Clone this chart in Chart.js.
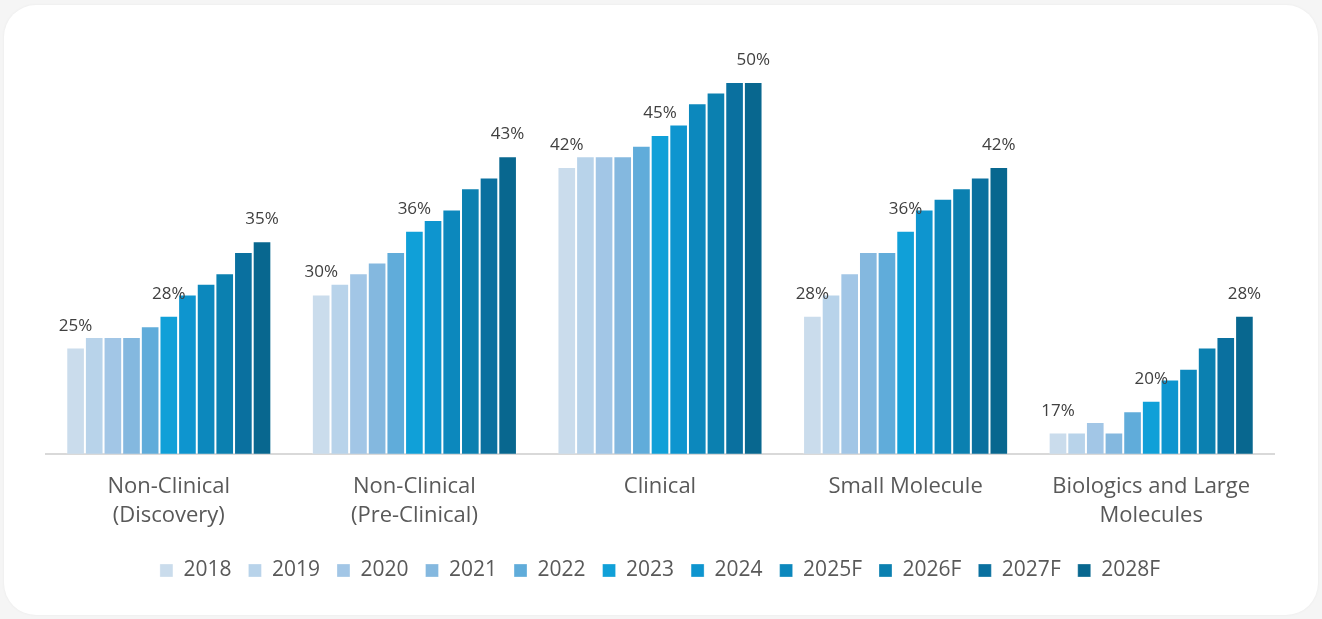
<!DOCTYPE html>
<html>
<head>
<meta charset="utf-8">
<title>Outsourcing penetration by segment</title>
<script src="https://cdn.jsdelivr.net/npm/chart.js@4.4.1/dist/chart.umd.min.js"></script>
<style>
  html, body { margin: 0; padding: 0; background: #f5f5f5; }
  body { width: 1322px; height: 619px; position: relative; overflow: hidden; }
  .card {
    position: absolute; left: 4px; top: 5px; width: 1314px; height: 610px;
    background: #ffffff; border-radius: 32px;
    box-shadow: 0 0 3px rgba(0, 0, 0, 0.05);
  }
  #penetrationChart { position: absolute; left: 0; top: 0; }
</style>
</head>
<body>
<div class="card"></div>
<canvas id="penetrationChart" width="1322" height="619"></canvas>
<script>
const segments = [
    ['Non-Clinical', '(Discovery)'],
    ['Non-Clinical', '(Pre-Clinical)'],
    'Clinical',
    'Small Molecule',
    ['Biologics and Large', 'Molecules']
];

const years = ['2018', '2019', '2020', '2021', '2022', '2023', '2024', '2025F', '2026F', '2027F', '2028F'];

// penetration (%) per year, one value per segment
const y2018  = [25, 30, 42, 28, 17];
const y2019  = [26, 31, 43, 30, 17];
const y2020  = [26, 32, 43, 32, 18];
const y2021  = [26, 33, 43, 34, 17];
const y2022  = [27, 34, 44, 34, 19];
const y2023  = [28, 36, 45, 36, 20];
const y2024  = [30, 37, 46, 38, 22];
const y2025F = [31, 38, 48, 39, 23];
const y2026F = [32, 40, 49, 40, 25];
const y2027F = [34, 41, 50, 41, 26];
const y2028F = [35, 43, 50, 42, 28];

const yearValues = [y2018, y2019, y2020, y2021, y2022, y2023, y2024, y2025F, y2026F, y2027F, y2028F];

const palette = ['#cadcec', '#b8d3ea', '#a2c6e6', '#84b8df', '#60acda', '#10a0d8', '#0e95cf', '#0c88bd', '#0b80b0', '#0a709f', '#08678f'];

// only these years get a value label
const labelledYears = ['2018', '2023', '2028F'];

const barLabels = {
    id: 'barLabels',
    afterDatasetsDraw(chart) {
        const ctx = chart.ctx;
        ctx.save();
        ctx.font = '17px "Open Sans"';
        ctx.fillStyle = '#404040';
        ctx.textAlign = 'center';
        ctx.textBaseline = 'alphabetic';
        chart.data.datasets.forEach((ds, i) => {
            if (!labelledYears.includes(ds.label)) return;
            chart.getDatasetMeta(i).data.forEach((bar, j) => {
                ctx.fillText(ds.data[j] + '%', bar.x, bar.y - 17);
            });
        });
        ctx.restore();
    }
};

const ctx = document.getElementById('penetrationChart').getContext('2d');
new Chart(ctx, {
    type: 'bar',
    data: {
        labels: segments,
        datasets: years.map((yr, i) => ({
            label: yr,
            data: yearValues[i],
            backgroundColor: palette[i],
            borderColor: 'rgba(255,255,255,0.3)',
            borderWidth: 1,
            barPercentage: 1,
            categoryPercentage: 0.835
        }))
    },
    options: {
        responsive: false,
        animation: false,
        layout: { padding: { left: 46, right: 48, top: 82, bottom: 28 } },
        scales: {
            x: {
                grid: { display: false },
                border: { display: true, color: '#d9d9d9', width: 2 },
                ticks: {
                    color: '#595959',
                    font: { family: 'Open Sans', size: 22, lineHeight: 1.3 },
                    padding: 11,
                    maxRotation: 0,
                    autoSkip: false
                },
                // a bit more room between the category names and the legend
                afterFit(scale) { scale.height += 2; }
            },
            y: {
                display: false,
                min: 15,
                max: 50
            }
        },
        plugins: {
            legend: {
                position: 'bottom',
                labels: {
                    color: '#595959',
                    font: { family: 'Open Sans', size: 21 },
                    boxWidth: 13,
                    boxHeight: 13,
                    padding: 17
                }
            },
            tooltip: { enabled: false }
        }
    },
    plugins: [barLabels]
});
</script>
</body>
</html>
